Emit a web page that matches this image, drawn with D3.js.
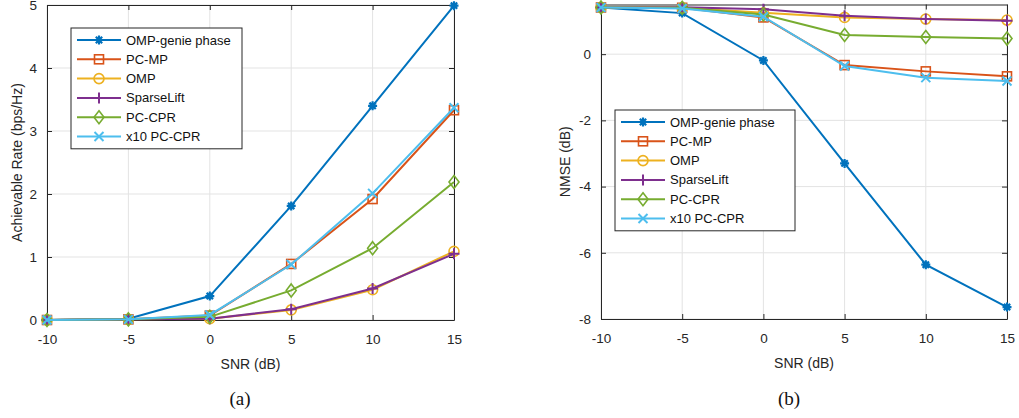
<!DOCTYPE html>
<html>
<head>
<meta charset="utf-8">
<script src="https://cdn.jsdelivr.net/npm/d3@7"></script>
<style>
  body { margin: 0; background: #fff; }
  text { font-family: "Liberation Sans", Arial, sans-serif; }
</style>
</head>
<body>
<svg id="fig" width="1019" height="418"></svg>
<script>
// SNR values shared by both panels
const snr = [-10, -5, 0, 5, 10, 15];
const seriesNames = ["OMP-genie phase", "PC-MP", "OMP", "SparseLift", "PC-CPR", "x10 PC-CPR"];

// (a) achievable rate, bps/Hz
const rateGenie = [0, 0.02, 0.38, 1.81, 3.40, 4.99];
const ratePCMP = [0, 0.01, 0.07, 0.89, 1.92, 3.33];
const rateOMP = [0, 0.01, 0.02, 0.16, 0.48, 1.09];
const rateSparseLift = [0, 0.01, 0.02, 0.17, 0.50, 1.05];
const ratePCCPR = [0, 0.01, 0.05, 0.47, 1.14, 2.19];
const rateX10 = [0, 0.01, 0.08, 0.88, 2.01, 3.37];

// (b) NMSE, dB
const nmseGenie = [1.41, 1.24, -0.19, -3.30, -6.36, -7.64];
const nmsePCMP = [1.41, 1.40, 1.11, -0.33, -0.52, -0.67];
const nmseOMP = [1.41, 1.40, 1.25, 1.11, 1.06, 1.03];
const nmseSparseLift = [1.41, 1.42, 1.36, 1.16, 1.06, 1.01];
const nmsePCCPR = [1.41, 1.40, 1.20, 0.58, 0.52, 0.47];
const nmseX10 = [1.41, 1.38, 1.13, -0.36, -0.71, -0.81];

const rateTicks = [0, 1, 2, 3, 4, 5];
const nmseTicks = [-8, -6, -4, -2, 0];

const colors = ["#0072BD", "#D95319", "#EDB120", "#7E2F8E", "#77AC30", "#4DBEEE"];
const markers = ["star", "square", "circle", "plus", "diamond", "x"];

const svg = d3.select("#fig");

function drawMarker(g, type, x, y, color) {
  const s = 4.5;
  if (type === "square") {
    g.append("rect").attr("x", x - s).attr("y", y - s).attr("width", 2 * s).attr("height", 2 * s)
      .attr("fill", "none").attr("stroke", color).attr("stroke-width", 1.6);
  } else if (type === "circle") {
    g.append("circle").attr("cx", x).attr("cy", y).attr("r", s + 0.5)
      .attr("fill", "none").attr("stroke", color).attr("stroke-width", 1.6);
  } else if (type === "diamond") {
    g.append("path").attr("d", `M${x},${y - 6.5}L${x + 5},${y}L${x},${y + 6.5}L${x - 5},${y}Z`)
      .attr("fill", "none").attr("stroke", color).attr("stroke-width", 1.6);
  } else if (type === "plus") {
    g.append("path").attr("d", `M${x - s - 1},${y}H${x + s + 1}M${x},${y - s - 1}V${y + s + 1}`)
      .attr("stroke", color).attr("stroke-width", 2);
  } else if (type === "x") {
    g.append("path").attr("d", `M${x - s},${y - s}L${x + s},${y + s}M${x - s},${y + s}L${x + s},${y - s}`)
      .attr("stroke", color).attr("stroke-width", 2);
  } else if (type === "star") {
    let d = "";
    for (let k = 0; k < 4; k++) {
      const a = k * Math.PI / 4;
      d += `M${x - s * Math.cos(a)},${y - s * Math.sin(a)}L${x + s * Math.cos(a)},${y + s * Math.sin(a)}`;
    }
    g.append("path").attr("d", d).attr("stroke", color).attr("stroke-width", 2.2);
    g.append("circle").attr("cx", x).attr("cy", y).attr("r", 2.6).attr("fill", color);
  }
}

function panel(opts) {
  const x = d3.scaleLinear().domain([-10, 15]).range([opts.left, opts.right]);
  const y = d3.scaleLinear().domain(opts.yDomain).range([opts.bottom, opts.top]);
  const g = svg.append("g");
  const fmt = d => String(d);

  // grid
  g.selectAll(".vg").data(snr).join("line")
    .attr("x1", d => x(d)).attr("x2", d => x(d)).attr("y1", opts.top).attr("y2", opts.bottom)
    .attr("stroke", "#e3e3e3").attr("stroke-width", 1);
  g.selectAll(".hg").data(opts.yTicks).join("line")
    .attr("x1", opts.left).attr("x2", opts.right).attr("y1", d => y(d)).attr("y2", d => y(d))
    .attr("stroke", "#e3e3e3").attr("stroke-width", 1);

  // axes (ticks inward, box on)
  const axCol = "#262626";
  const xb = g.append("g").attr("transform", `translate(0,${opts.bottom})`)
    .call(d3.axisBottom(x).tickValues(snr).tickFormat(fmt).tickSizeInner(-5).tickSizeOuter(0).tickPadding(14));
  const yl = g.append("g").attr("transform", `translate(${opts.left},0)`)
    .call(d3.axisLeft(y).tickValues(opts.yTicks).tickFormat(fmt).tickSizeInner(-5).tickSizeOuter(0).tickPadding(10));
  const xt = g.append("g").attr("transform", `translate(0,${opts.top})`)
    .call(d3.axisTop(x).tickValues(snr).tickSizeInner(-5).tickSizeOuter(0).tickFormat(""));
  const yr = g.append("g").attr("transform", `translate(${opts.right},0)`)
    .call(d3.axisRight(y).tickValues(opts.yTicks).tickSizeInner(-5).tickSizeOuter(0).tickFormat(""));
  [xb, yl, xt, yr].forEach(a => {
    a.select(".domain").attr("stroke", axCol);
    a.selectAll(".tick line").attr("stroke", axCol);
    a.selectAll("text").attr("fill", axCol).style("font-size", "13.5px")
      .style("font-family", "'Liberation Sans', Arial, sans-serif");
  });

  // series
  const line = d3.line().x((d, i) => x(snr[i])).y(d => y(d));
  opts.series.forEach((vals, i) => {
    const sg = g.append("g");
    sg.append("path").datum(vals).attr("d", line)
      .attr("fill", "none").attr("stroke", colors[i]).attr("stroke-width", 2);
    vals.forEach((v, j) => drawMarker(sg, markers[i], x(snr[j]), y(v), colors[i]));
  });

  // axis labels
  g.append("text").attr("x", (opts.left + opts.right) / 2).attr("y", opts.bottom + 49)
    .attr("text-anchor", "middle").style("font-size", "14px").attr("fill", axCol).text("SNR (dB)");
  g.append("text").attr("transform", `translate(${opts.yLabelX},${(opts.top + opts.bottom) / 2}) rotate(-90)`)
    .attr("text-anchor", "middle").style("font-size", "14px").attr("fill", axCol).text(opts.yLabel);
  g.append("text").attr("x", opts.capX).attr("y", 405).attr("text-anchor", "middle")
    .style("font-family", "'Liberation Serif', 'DejaVu Serif', serif").style("font-size", "19px")
    .attr("fill", "#111").text(opts.caption);

  // legend
  const lg = g.append("g");
  const lh = 19.3;
  lg.append("rect").attr("x", opts.legX).attr("y", opts.legY)
    .attr("width", opts.legW).attr("height", lh * 6 + 5)
    .attr("fill", "#fff").attr("stroke", axCol).attr("stroke-width", 1);
  seriesNames.forEach((name, i) => {
    const yy = opts.legY + 12 + i * lh;
    lg.append("line").attr("x1", opts.legX + 6).attr("x2", opts.legX + 50)
      .attr("y1", yy).attr("y2", yy).attr("stroke", colors[i]).attr("stroke-width", 2);
    drawMarker(lg, markers[i], opts.legX + 28, yy, colors[i]);
    lg.append("text").attr("x", opts.legX + 55).attr("y", yy + 4.5)
      .style("font-size", "13px").attr("fill", "#111").text(name);
  });
}

panel({
  left: 47, right: 454, top: 5, bottom: 320,
  yDomain: [0, 5], yTicks: rateTicks,
  series: [rateGenie, ratePCMP, rateOMP, rateSparseLift, ratePCCPR, rateX10],
  yLabel: "Achievable Rate (bps/Hz)", yLabelX: 22, capX: 240, caption: "(a)",
  legX: 71, legY: 28, legW: 171
});

panel({
  left: 601, right: 1007, top: 4.5, bottom: 319,
  yDomain: [-8, 1.5], yTicks: nmseTicks,
  series: [nmseGenie, nmsePCMP, nmseOMP, nmseSparseLift, nmsePCCPR, nmseX10],
  yLabel: "NMSE (dB)", yLabelX: 570, capX: 789, caption: "(b)",
  legX: 615, legY: 110, legW: 180
});
</script>
</body>
</html>
